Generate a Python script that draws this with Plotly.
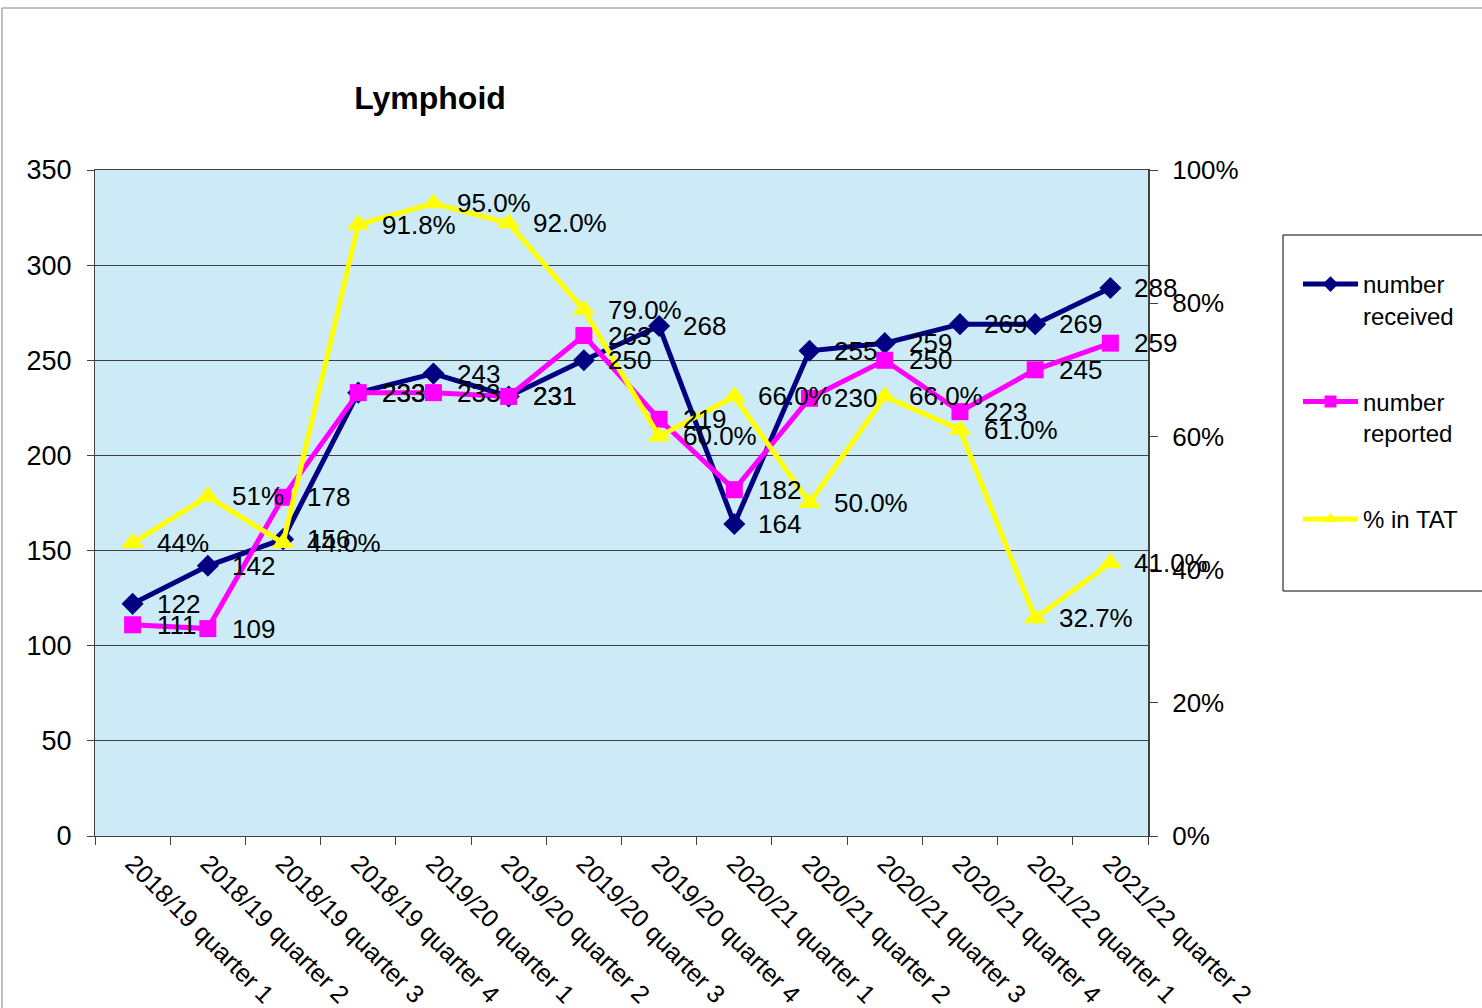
import plotly.graph_objects as go

categories = ["2018/19 quarter 1", "2018/19 quarter 2", "2018/19 quarter 3", "2018/19 quarter 4",
              "2019/20 quarter 1", "2019/20 quarter 2", "2019/20 quarter 3", "2019/20 quarter 4",
              "2020/21 quarter 1", "2020/21 quarter 2", "2020/21 quarter 3", "2020/21 quarter 4",
              "2021/22 quarter 1", "2021/22 quarter 2"]
received = [122, 142, 156, 233, 243, 231, 250, 268, 164, 255, 259, 269, 269, 288]
reported = [111, 109, 178, 233, 233, 231, 263, 219, 182, 230, 250, 223, 245, 259]
pct_tat = [0.44, 0.51, 0.44, 0.918, 0.95, 0.92, 0.79, 0.60, 0.66, 0.50, 0.66, 0.61, 0.327, 0.41]
pct_labels = ["44%", "51%", "44.0%", "91.8%", "95.0%", "92.0%", "79.0%", "60.0%",
              "66.0%", "50.0%", "66.0%", "61.0%", "32.7%", "41.0%"]

FONT = "Liberation Sans, Arial, sans-serif"
FS = 26
W, H = 1482, 1008
L, R, T, B = 95, 1148, 170, 836
PW, PH = R - L, B - T

def px_x(p):
    return (p - L) / PW

def px_y(p):
    return (B - p) / PH

fig = go.Figure()
fig.add_trace(go.Scatter(
    x=categories, y=received, name="number<br>received", mode="lines+markers",
    line=dict(color="#000080", width=5), marker=dict(symbol="diamond", size=17, color="#000080"),
    legendgroup="a", yaxis="y"))
fig.add_trace(go.Scatter(
    x=categories, y=reported, name="number<br>reported", mode="lines+markers",
    line=dict(color="#FF00FF", width=5), marker=dict(symbol="square", size=17, color="#FF00FF"),
    legendgroup="b", yaxis="y"))
fig.add_trace(go.Scatter(
    x=categories, y=pct_tat, name="% in TAT", mode="lines+markers",
    line=dict(color="#FFFF00", width=5), marker=dict(symbol="triangle-up", size=20, color="#FFFF00"),
    legendgroup="c", yaxis="y2"))

annotations = []
for c, v in zip(categories, received):
    annotations.append(dict(x=c, y=v, xref="x", yref="y", text=str(v), showarrow=False,
                            xanchor="left", yanchor="middle", xshift=22,
                            font=dict(family=FONT, size=FS, color="black")))
for c, v in zip(categories, reported):
    annotations.append(dict(x=c, y=v, xref="x", yref="y", text=str(v), showarrow=False,
                            xanchor="left", yanchor="middle", xshift=22,
                            font=dict(family=FONT, size=FS, color="black")))
for c, v, t in zip(categories, pct_tat, pct_labels):
    annotations.append(dict(x=c, y=v, xref="x", yref="y2", text=t, showarrow=False,
                            xanchor="left", yanchor="middle", xshift=22,
                            font=dict(family=FONT, size=FS, color="black")))

shapes = [
    dict(type="rect", xref="paper", yref="paper", x0=px_x(2), x1=px_x(1495), y0=px_y(1020), y1=px_y(8),
         line=dict(color="#808080", width=1), fillcolor="rgba(0,0,0,0)", layer="below"),
    dict(type="rect", xref="paper", yref="paper", x0=px_x(1283), x1=px_x(1495), y0=px_y(591), y1=px_y(235),
         line=dict(color="black", width=1), fillcolor="white", layer="below"),
]

fig.update_layout(
    width=W, height=H, autosize=False,
    margin=dict(l=L, r=W - R, t=T, b=H - B, autoexpand=False),
    paper_bgcolor="white",
    plot_bgcolor="#CCEBF7",
    font=dict(family=FONT, size=FS, color="black"),
    title=dict(text="<b>Lymphoid</b>", x=430 / W, xanchor="center", y=1 - 98 / H, yanchor="middle",
               font=dict(family=FONT, size=32, color="black")),
    xaxis=dict(type="category", categoryorder="array", categoryarray=categories,
               tickangle=45, tickson="boundaries", ticks="outside", ticklen=8, tickcolor="#404040",
               showgrid=False, showline=True, linecolor="#404040", linewidth=1, mirror=True,
               automargin=False, ticklabelstandoff=2,
               tickfont=dict(family=FONT, size=25), range=[-0.5, 13.5]),
    yaxis=dict(range=[0, 350], dtick=50, ticks="outside", ticklen=7, tickcolor="#404040",
               showgrid=True, gridcolor="#404040", gridwidth=1, zeroline=False,
               showline=True, linecolor="#404040", linewidth=1, automargin=False,
               tickfont=dict(family=FONT, size=27), ticklabelstandoff=10),
    yaxis2=dict(range=[0, 1], dtick=0.2, tickformat=".0%", overlaying="y", side="right",
                ticks="outside", ticklen=8, tickcolor="#404040", showgrid=False, zeroline=False,
                showline=True, linecolor="#404040", linewidth=2, automargin=False,
                tickfont=dict(family=FONT, size=26), ticklabelstandoff=9),
    yaxis3=dict(range=[0, 1], dtick=0.2, overlaying="y", side="right", anchor="x",
                ticks="inside", ticklen=8, tickcolor="#404040", showgrid=False, zeroline=False,
                showticklabels=False, showline=False, automargin=False),
    legend=dict(x=px_x(1298), y=px_y(262), xanchor="left", yanchor="top",
                bgcolor="rgba(0,0,0,0)", borderwidth=0, itemwidth=55, itemsizing="constant",
                tracegroupgap=52, valign="top",
                font=dict(family=FONT, size=24, color="black")),
    annotations=annotations,
    shapes=shapes,
    showlegend=True,
)

fig.write_html("out.html",
               config={"responsive": False, "displayModeBar": False},
               post_script="document.body.style.margin='0';document.body.style.overflow='hidden';")
